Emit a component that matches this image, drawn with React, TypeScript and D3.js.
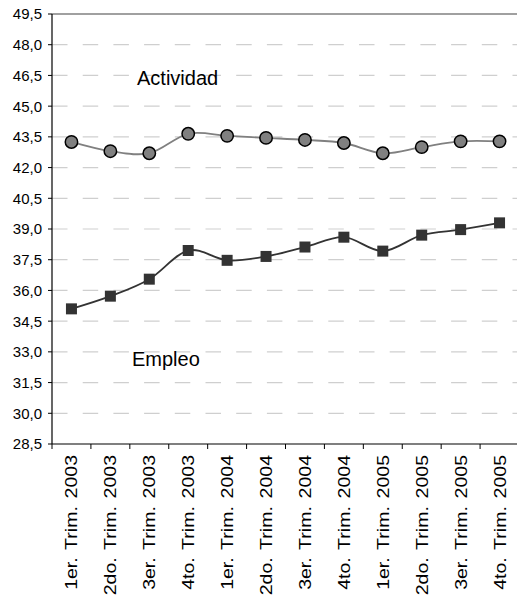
import { useEffect, useRef } from 'react';
import * as d3 from 'd3';

const categories = [
  '1er. Trim. 2003', '2do. Trim. 2003', '3er. Trim. 2003', '4to. Trim. 2003',
  '1er. Trim. 2004', '2do. Trim. 2004', '3er. Trim. 2004', '4to. Trim. 2004',
  '1er. Trim. 2005', '2do. Trim. 2005', '3er. Trim. 2005', '4to. Trim. 2005',
];

const actividad = [43.25, 42.8, 42.7, 43.65, 43.55, 43.45, 43.35, 43.2, 42.7, 43.0, 43.28, 43.28];
const empleo = [35.1, 35.72, 36.55, 37.95, 37.47, 37.66, 38.12, 38.6, 37.92, 38.7, 38.97, 39.3];

const yTicks = [28.5, 30, 31.5, 33, 34.5, 36, 37.5, 39, 40.5, 42, 43.5, 45, 46.5, 48, 49.5];

const fmt = (v: number) => v.toFixed(1).replace('.', ',');

export default function App() {
  const svgRef = useRef<SVGSVGElement>(null);

  useEffect(() => {
    if (!svgRef.current) return;
    const svg = d3.select(svgRef.current);
    svg.selectAll('*').remove();

    const left = 52;
    const right = 519;
    const top = 14;
    const bottom = 444;
    const font = '"Liberation Sans", Arial, sans-serif';

    const x = d3.scaleBand<string>().domain(categories).range([left, right]);
    const y = d3.scaleLinear().domain([28.5, 49.5]).range([bottom, top]);
    const cx = (i: number) => x(categories[i])! + x.bandwidth() / 2;

    const g = svg.append('g');

    // gridlines (dashed, top one solid)
    g.selectAll('.grid')
      .data(yTicks.filter(t => t > 28.5))
      .join('line')
      .attr('x1', left)
      .attr('x2', right)
      .attr('y1', d => y(d))
      .attr('y2', d => y(d))
      .attr('stroke', d => (d === 49.5 ? '#808080' : '#cfcfcf'))
      .attr('stroke-width', d => (d === 49.5 ? 1.5 : 1.2))
      .attr('stroke-dasharray', d => (d === 49.5 ? null : '15.5 15.2'));

    // y axis
    g.append('line')
      .attr('x1', left).attr('x2', left)
      .attr('y1', top).attr('y2', bottom)
      .attr('stroke', '#000').attr('stroke-width', 1.2);

    g.selectAll('.ytick')
      .data(yTicks)
      .join('line')
      .attr('x1', left - 4).attr('x2', left)
      .attr('y1', d => y(d)).attr('y2', d => y(d))
      .attr('stroke', '#000');

    g.selectAll('.ylabel')
      .data(yTicks)
      .join('text')
      .attr('x', left - 10)
      .attr('y', d => y(d))
      .attr('dy', '0.36em')
      .attr('text-anchor', 'end')
      .attr('font-family', font)
      .attr('font-size', '15px')
      .attr('fill', '#000')
      .text(d => fmt(d));

    // x axis
    g.append('line')
      .attr('x1', left).attr('x2', right)
      .attr('y1', bottom).attr('y2', bottom)
      .attr('stroke', '#000').attr('stroke-width', 1.2);

    g.selectAll('.xtick')
      .data(d3.range(categories.length + 1))
      .join('line')
      .attr('x1', i => left + i * x.step())
      .attr('x2', i => left + i * x.step())
      .attr('y1', bottom).attr('y2', bottom + 5)
      .attr('stroke', '#000');

    // rotated labels, slightly stretched along the text like the original
    g.selectAll('.xlabel')
      .data(categories)
      .join('text')
      .attr('transform', d => `translate(${x(d)! + x.bandwidth() / 2 + 6},${bottom + 11}) rotate(-90) scale(1.15,1)`)
      .attr('text-anchor', 'end')
      .attr('font-family', font)
      .attr('font-size', '17px')
      .attr('word-spacing', '2px')
      .attr('fill', '#000')
      .text(d => d);

    const line = d3.line<number>()
      .x((_, i) => cx(i))
      .y(d => y(d))
      .curve(d3.curveCardinal.tension(0));

    // Actividad
    g.append('path')
      .attr('d', line(actividad))
      .attr('fill', 'none')
      .attr('stroke', '#808080')
      .attr('stroke-width', 1.8);

    g.selectAll('.act')
      .data(actividad)
      .join('circle')
      .attr('cx', (_, i) => cx(i))
      .attr('cy', d => y(d))
      .attr('r', 6.2)
      .attr('fill', '#808080')
      .attr('stroke', '#000')
      .attr('stroke-width', 1.5);

    // Empleo
    g.append('path')
      .attr('d', line(empleo))
      .attr('fill', 'none')
      .attr('stroke', '#333333')
      .attr('stroke-width', 1.8);

    g.selectAll('.emp')
      .data(empleo)
      .join('rect')
      .attr('x', (_, i) => cx(i) - 5.5)
      .attr('y', d => y(d) - 5.5)
      .attr('width', 11)
      .attr('height', 11)
      .attr('fill', '#333333');

    // series labels
    g.append('text')
      .attr('x', 137).attr('y', 85)
      .attr('font-family', font)
      .attr('font-size', '20px')
      .attr('fill', '#000')
      .text('Actividad');

    g.append('text')
      .attr('x', 132).attr('y', 366)
      .attr('font-family', font)
      .attr('font-size', '20px')
      .attr('fill', '#000')
      .text('Empleo');
  }, []);

  return (
    <div style={{ position: 'absolute', left: 0, top: 0, background: '#fff' }}>
      <svg ref={svgRef} width={517} height={600} style={{ display: 'block' }} />
    </div>
  );
}
